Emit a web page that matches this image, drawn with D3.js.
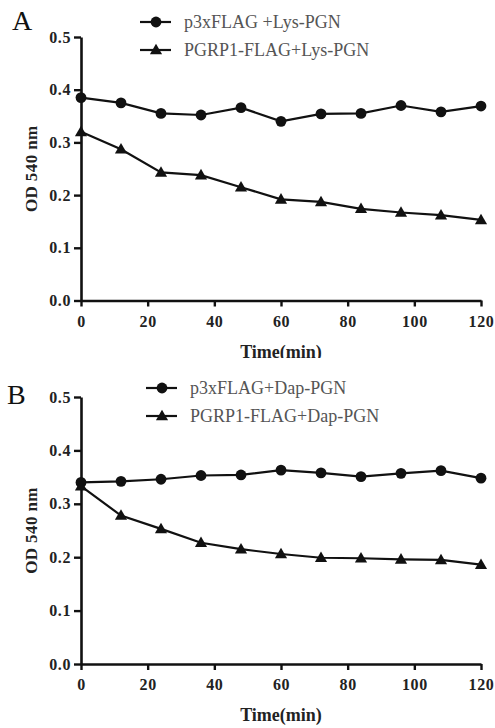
<!DOCTYPE html>
<html>
<head>
<meta charset="utf-8">
<script src="https://cdn.jsdelivr.net/npm/d3@7"></script>
<style>
  body { margin: 0; background: #fff; }
  svg { display: block; }
</style>
</head>
<body>
<div id="chart"></div>
<script>
// Time points (min)
const times = [0, 12, 24, 36, 48, 60, 72, 84, 96, 108, 120];

// Panel A series
const ctrlLys = [0.385, 0.375, 0.355, 0.352, 0.366, 0.340, 0.354, 0.355, 0.370, 0.358, 0.369];
const pgrpLys = [0.320, 0.287, 0.243, 0.238, 0.215, 0.192, 0.187, 0.174, 0.167, 0.162, 0.153];

// Panel B series
const ctrlDap = [0.340, 0.342, 0.346, 0.353, 0.354, 0.363, 0.358, 0.351, 0.357, 0.362, 0.348];
const pgrpDap = [0.333, 0.278, 0.253, 0.227, 0.215, 0.206, 0.199, 0.198, 0.196, 0.195, 0.186];

const xTicks = [0, 20, 40, 60, 80, 100, 120];
const yTicks = [0.0, 0.1, 0.2, 0.3, 0.4, 0.5];

// panel A is cut just under its x title, like the source figure
const panels = [
  { letter: "A", height: 358, top: 37, bottom: 300.5, letterX: 12, letterY: 30, legX: 140,
    series: [ctrlLys, pgrpLys],
    labels: ["p3xFLAG +Lys-PGN", "PGRP1-FLAG+Lys-PGN"], legY: [22, 50] },
  { letter: "B", height: 370, top: 39, bottom: 306, letterX: 7, letterY: 46, legX: 146,
    series: [ctrlDap, pgrpDap],
    labels: ["p3xFLAG+Dap-PGN", "PGRP1-FLAG+Dap-PGN"], legY: [30, 58] }
];

const width = 495;
const left = 81, right = 481;
const serif = "'Liberation Serif', 'DejaVu Serif', serif";

const triangle = d3.symbol().type(d3.symbolTriangle).size(64);

function drawMarker(g, kind, x, y) {
  if (kind === 0) {
    g.append("circle").attr("cx", x).attr("cy", y).attr("r", 5.4).attr("fill", "#111");
  } else {
    g.append("path").attr("d", triangle)
      .attr("transform", `translate(${x},${y + 0.8})`).attr("fill", "#111");
  }
}

panels.forEach(p => {
  const svg = d3.select("#chart").append("svg")
    .attr("width", width)
    .attr("height", p.height);

  const x = d3.scaleLinear().domain([0, 120]).range([left, right]);
  const y = d3.scaleLinear().domain([0, 0.5]).range([p.bottom, p.top]);

  // Panel letter
  svg.append("text")
    .attr("x", p.letterX).attr("y", p.letterY)
    .style("font-family", serif).style("font-size", "28px")
    .attr("fill", "#111")
    .text(p.letter);

  // Axes
  const xAxis = svg.append("g")
    .attr("transform", `translate(0,${p.bottom})`)
    .call(d3.axisBottom(x).tickValues(xTicks).tickSize(6).tickPadding(9).tickSizeOuter(0));
  const yAxis = svg.append("g")
    .attr("transform", `translate(${left},0)`)
    .call(d3.axisLeft(y).tickValues(yTicks).tickSize(7).tickPadding(3).tickFormat(d3.format(".1f")).tickSizeOuter(0));

  [xAxis, yAxis].forEach(ax => {
    ax.select(".domain").attr("stroke", "#111").attr("stroke-width", 2.6);
    ax.selectAll(".tick line").attr("stroke", "#111").attr("stroke-width", 2.4);
    ax.selectAll(".tick text")
      .style("font-family", serif).style("font-size", "16px").style("font-weight", "bold")
      .style("letter-spacing", "0.6px")
      .attr("fill", "#222");
  });

  // Axis titles
  svg.append("text")
    .attr("x", (left + right) / 2).attr("y", p.bottom + 57)
    .attr("text-anchor", "middle")
    .style("font-family", serif).style("font-size", "18px").style("font-weight", "bold")
    .attr("fill", "#222")
    .text("Time(min)");

  svg.append("text")
    .attr("transform", `translate(37,${(p.top + p.bottom) / 2}) rotate(-90)`)
    .attr("text-anchor", "middle")
    .style("font-family", serif).style("font-size", "17px").style("font-weight", "bold")
    .style("letter-spacing", "0.4px")
    .attr("fill", "#222")
    .text("OD 540 nm");

  // Lines and markers
  const line = d3.line().x((d, i) => x(times[i])).y(d => y(d));
  p.series.forEach((vals, k) => {
    svg.append("path")
      .datum(vals)
      .attr("d", line)
      .attr("fill", "none")
      .attr("stroke", "#111")
      .attr("stroke-width", 2.2);
    const mg = svg.append("g");
    vals.forEach((v, i) => drawMarker(mg, k, x(times[i]), y(v)));
  });

  // Legend
  p.labels.forEach((lab, k) => {
    const ly = p.legY[k];
    svg.append("line")
      .attr("x1", p.legX).attr("x2", p.legX + 31)
      .attr("y1", ly).attr("y2", ly)
      .attr("stroke", "#111").attr("stroke-width", 2.2);
    drawMarker(svg, k, p.legX + 16, ly);
    svg.append("text")
      .attr("x", p.legX + 44).attr("y", ly + 6)
      .style("font-family", serif).style("font-size", "18px")
      .attr("fill", "#555")
      .text(lab);
  });
});
</script>
</body>
</html>
